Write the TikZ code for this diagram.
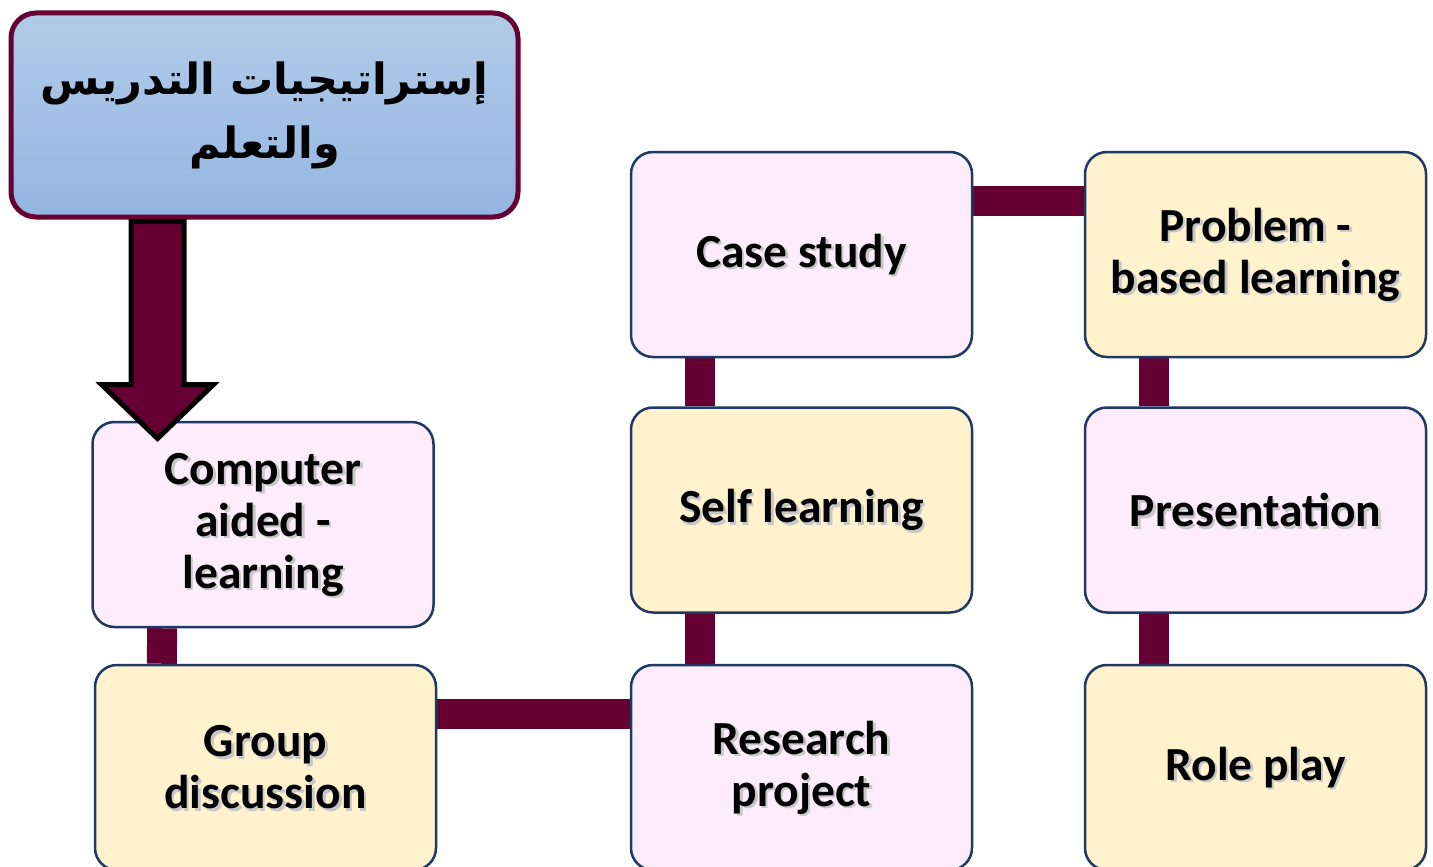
\documentclass[tikz,border=0pt]{standalone}
\usepackage{fontspec}
\setmainfont{Carlito}
\newfontfamily\arabicfont[Script=Arabic]{DejaVu Sans}
\TeXXeTstate=1
\usetikzlibrary{backgrounds}
\definecolor{maroon}{HTML}{660033}
\definecolor{navyb}{HTML}{1F3864}
\definecolor{pinkf}{HTML}{FDEDFC}
\definecolor{yellf}{HTML}{FFF2CC}
\definecolor{bluetop}{HTML}{B2CBE9}
\definecolor{bluebot}{HTML}{93B6E2}
\tikzset{
  card/.style={draw=navyb, line width=2.5pt, rounded corners=22pt,
    minimum width=341pt, minimum height=205pt, inner sep=0pt},
  pinkcard/.style={card, fill=pinkf},
  yellcard/.style={card, fill=yellf},
  cardtxt/.style={inner sep=0pt, align=center, font=\bfseries\fontsize{47.5}{52}\selectfont},
  cardshadow/.style={cardtxt, text=black!22},
  conn/.style={draw=maroon, line width=30pt},
}
\newcommand\mkcard[4]{%
  \node[#1] (#2) at (#3) {};
  \node[cardshadow] (#2-sh) at ([shift={(2.5,2.5)}]#2.center) {#4};
  \node[cardtxt] (#2-t) at (#2.center) {#4};}
\begin{document}
\begin{tikzpicture}[x=1pt,y=-1pt]
\useasboundingbox (0,0) rectangle (1433,867);
\clip (0,0) rectangle (1433,867);
% title
\node[draw=maroon, line width=5pt, rounded corners=25pt, top color=bluetop, bottom color=bluebot,
  minimum width=507pt, minimum height=204pt, inner sep=0pt, align=center,
  font=\arabicfont\bfseries\fontsize{43}{64}\selectfont] (title) at (264.5,115)
  {\beginR إستراتيجيات التدريس\endR\\\beginR والتعلم\endR};
% cards
\mkcard{pinkcard}{comp}{263,524.5}{Computer\\aided -\\learning}
\mkcard{yellcard}{group}{265.5,767.5}{Group\\discussion}
\mkcard{pinkcard}{research}{801.5,767.5}{Research\\project}
\mkcard{yellcard}{self}{801.5,510}{Self learning}
\mkcard{pinkcard}{case}{801.5,254.5}{Case study}
\mkcard{yellcard}{problem}{1255.5,254.5}{Problem -\\based learning}
\mkcard{pinkcard}{present}{1255.5,510}{Presentation}
\mkcard{yellcard}{role}{1255.5,767.5}{Role play}
% connectors
\begin{scope}[on background layer]
\draw[conn] ([xshift=71pt]comp.south west) -- ([xshift=68pt]group.north west);
\draw[conn] ([yshift=-50pt]group.north east) -- ([yshift=-50pt]research.north west);
\draw[conn] ([xshift=70pt]research.north west) -- ([xshift=70pt]self.south west);
\draw[conn] ([xshift=70pt]self.north west) -- ([xshift=70pt]case.south west);
\draw[conn] ([yshift=-50pt]case.north east) -- ([yshift=-50pt]problem.north west);
\draw[conn] ([xshift=70pt]problem.south west) -- ([xshift=70pt]present.north west);
\draw[conn] ([xshift=70pt]present.south west) -- ([xshift=70pt]role.north west);
\end{scope}
% big arrow
\coordinate (as) at ([xshift=149pt]title.south west);
\draw[draw=black, fill=maroon, line width=5pt, line join=miter]
  (as) ++(-26.5,2) -- ++(53,0) -- ++(0,163) -- ++(29.5,0) -- ++(-56,54)
  -- ++(-56,-54) -- ++(29.5,0) -- cycle;
\end{tikzpicture}
\end{document}
